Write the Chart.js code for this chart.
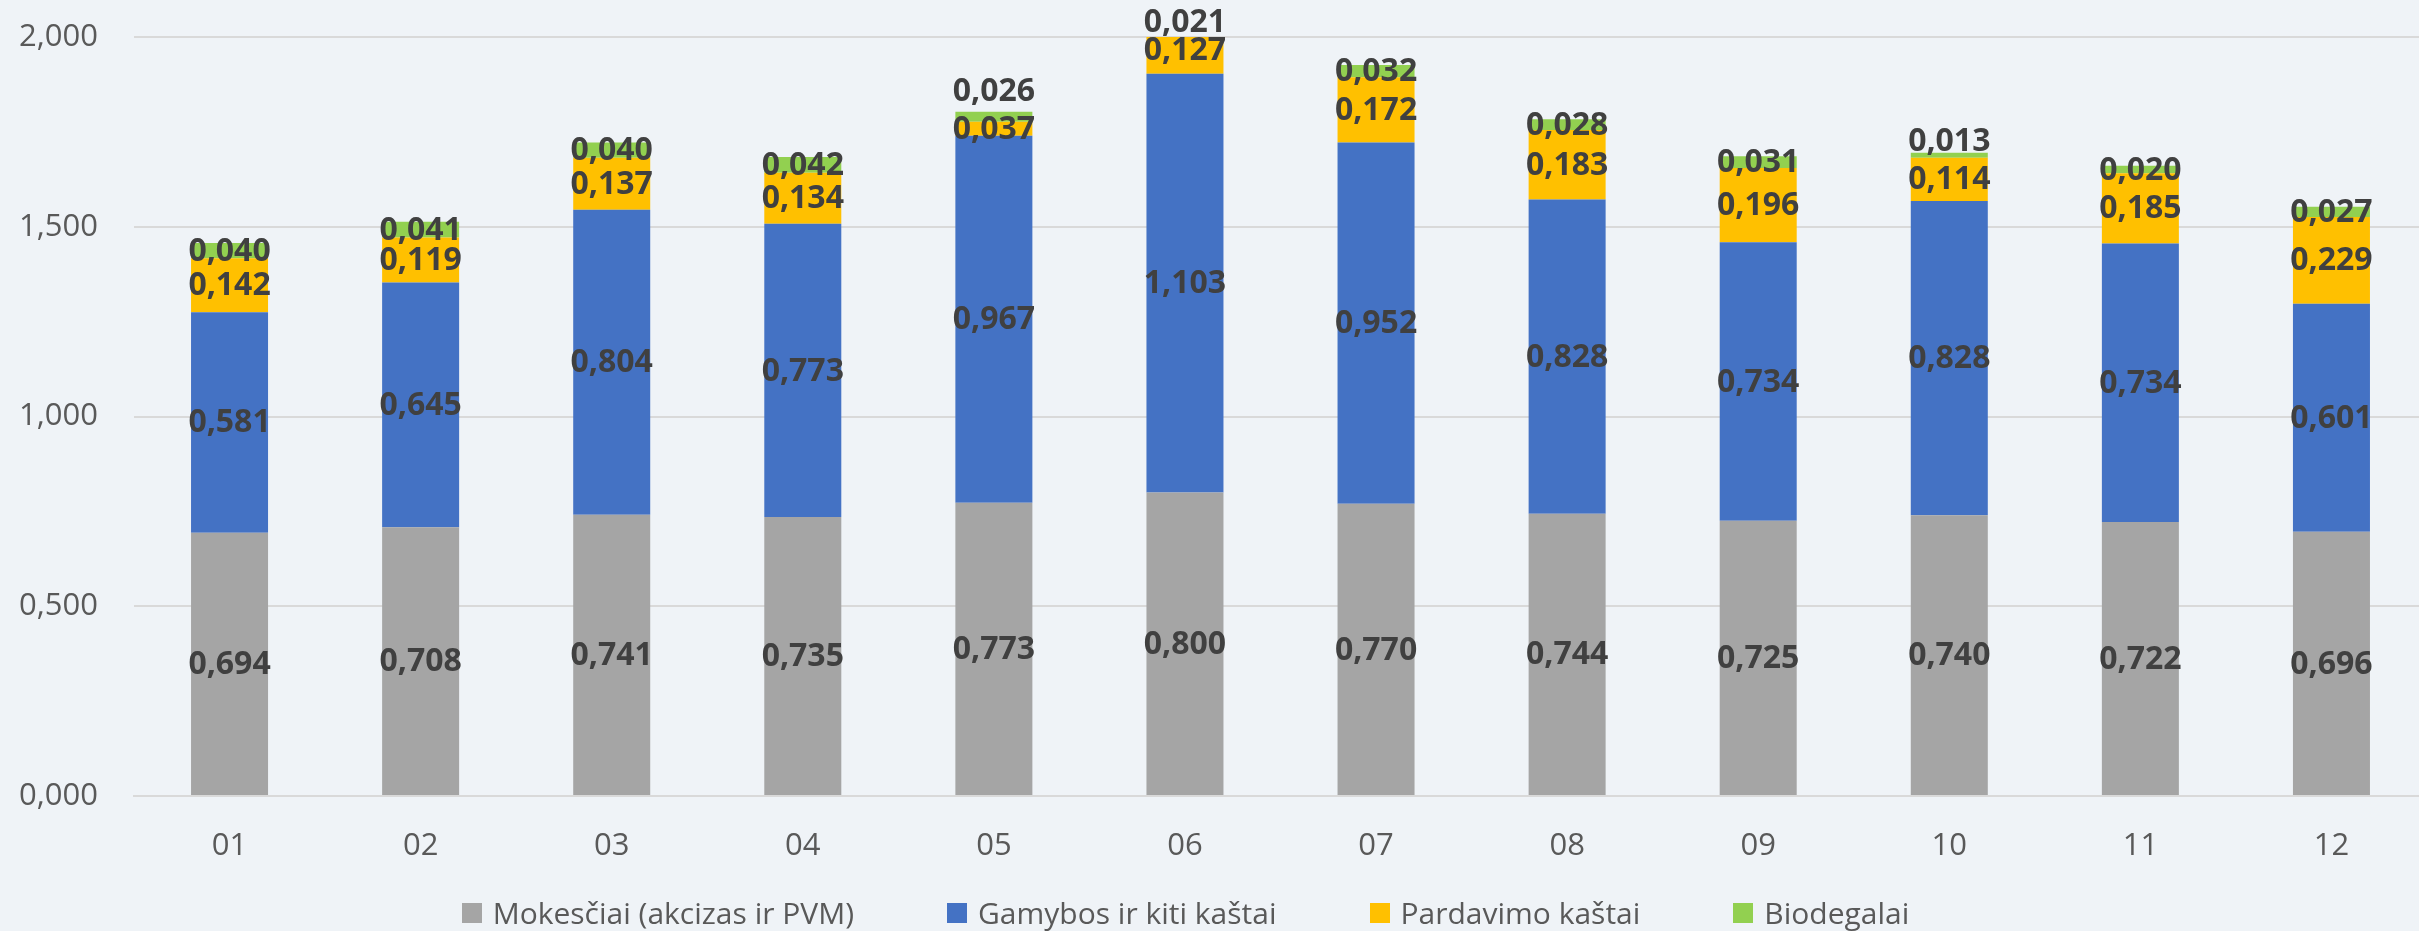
<!DOCTYPE html>
<html>
<head>
<meta charset="utf-8">
<script src="https://cdn.jsdelivr.net/npm/chart.js@4.4.1/dist/chart.umd.min.js"></script>
<style>
  html, body { margin: 0; padding: 0; background: #eff3f7; overflow: hidden; }
  #wrap { position: relative; width: 2427px; height: 931px; }
  #legend { position: absolute; left: 0; width: 2371px; top: 893px; display: flex; justify-content: center; gap: 93px;
            font-family: "Open Sans", sans-serif; font-size: 30px; color: #595959; line-height: 40px; }
  #legend span.item { display: flex; align-items: center; }
  #legend i { display: inline-block; width: 20px; height: 20px; margin-right: 11px; }
</style>
</head>
<body>
<div id="wrap">
  <canvas id="costChart" width="2427" height="931"></canvas>
  <div id="legend"></div>
</div>
<script>
// months and cost components (EUR/l)
const months = ['01', '02', '03', '04', '05', '06', '07', '08', '09', '10', '11', '12'];
const taxes = [0.694, 0.708, 0.741, 0.735, 0.773, 0.800, 0.770, 0.744, 0.725, 0.740, 0.722, 0.696];
const production = [0.581, 0.645, 0.804, 0.773, 0.967, 1.103, 0.952, 0.828, 0.734, 0.828, 0.734, 0.601];
const selling = [0.142, 0.119, 0.137, 0.134, 0.037, 0.127, 0.172, 0.183, 0.196, 0.114, 0.185, 0.229];
const biofuel = [0.040, 0.041, 0.040, 0.042, 0.026, 0.021, 0.032, 0.028, 0.031, 0.013, 0.020, 0.027];
const yTicks = [0, 0.5, 1, 1.5, 2];

const fmt = v => v.toFixed(3).replace('.', ',');

// draws value labels in the middle of each segment, pushing a label up when it would collide
const segmentLabels = {
  id: 'segmentLabels',
  afterDatasetsDraw(chart) {
    const ctx = chart.ctx;
    ctx.save();
    ctx.font = 'bold 32px "Open Sans"';
    ctx.fillStyle = '#404040';
    ctx.textAlign = 'center';
    ctx.textBaseline = 'middle';
    months.forEach((m, i) => {
      let prevY = null;
      chart.data.datasets.forEach((ds, d) => {
        const bar = chart.getDatasetMeta(d).data[i];
        const p = bar.getProps(['x', 'y', 'base'], true);
        let y = (p.y + p.base) / 2;
        if (prevY !== null && prevY - y < 26) y = prevY - 38;
        ctx.fillText(fmt(ds.data[i]), p.x, y + 1);
        prevY = y;
      });
    });
    ctx.restore();
  }
};

const ctx = document.getElementById('costChart').getContext('2d');

const chart = new Chart(ctx, {
  type: 'bar',
  data: {
    labels: months,
    datasets: [
      { label: 'Mokesčiai (akcizas ir PVM)', data: taxes, backgroundColor: '#a5a5a5' },
      { label: 'Gamybos ir kiti kaštai', data: production, backgroundColor: '#4472c4' },
      { label: 'Pardavimo kaštai', data: selling, backgroundColor: '#ffc000' },
      { label: 'Biodegalai', data: biofuel, backgroundColor: '#92d050' }
    ]
  },
  options: {
    responsive: false,
    animation: false,
    categoryPercentage: 1,
    barPercentage: 0.403,
    layout: { padding: { top: 0, bottom: 57, left: 0, right: 0 } },
    plugins: {
      tooltip: { enabled: false },
      legend: { display: false }
    },
    scales: {
      x: {
        stacked: true,
        grid: { display: false, drawTicks: false },
        border: { color: '#d9d9d9', width: 2 },
        ticks: { font: { family: '"Open Sans"', size: 31 }, color: '#595959', padding: 32 },
        afterFit(scale) { scale.height = 78; }
      },
      y: {
        stacked: true,
        min: 0,
        max: 2,
        afterBuildTicks(scale) { scale.ticks = yTicks.map(v => ({ value: v })); },
        grid: { color: '#d9d9d9', lineWidth: 2, drawTicks: false },
        border: { display: false },
        ticks: {
          font: { family: '"Open Sans"', size: 31 },
          color: '#595959',
          padding: 36,
          callback: v => fmt(v)
        },
        afterFit(scale) {
          scale.width = 134;
          scale.paddingTop = 37;
          scale.paddingBottom = 0;
        }
      }
    }
  },
  plugins: [segmentLabels]
});

// html legend built from the datasets
document.getElementById('legend').innerHTML = chart.data.datasets
  .map(ds => `<span class="item"><i style="background:${ds.backgroundColor}"></i>${ds.label}</span>`)
  .join('');
</script>
</body>
</html>
